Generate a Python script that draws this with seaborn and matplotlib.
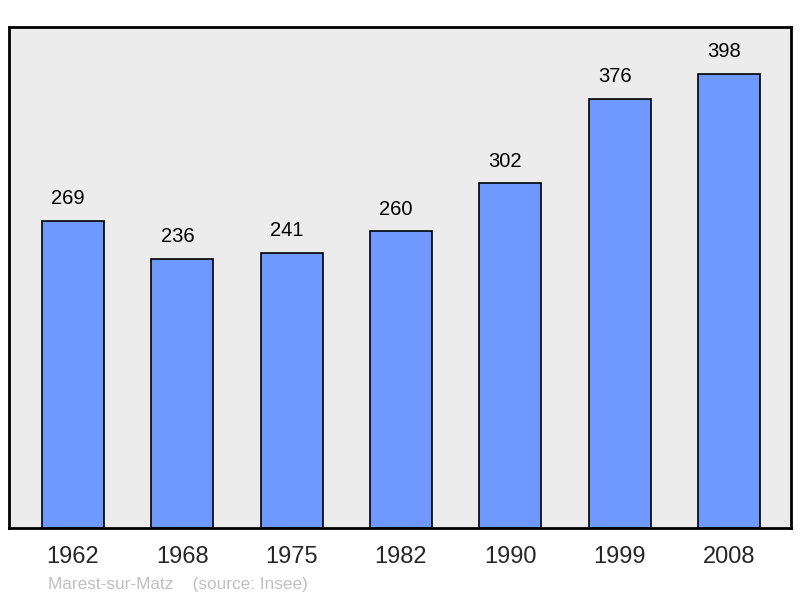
import matplotlib
matplotlib.use("Agg")
import matplotlib.pyplot as plt
import seaborn as sns
import pandas as pd

# Population data
years = ["1962", "1968", "1975", "1982", "1990", "1999", "2008"]
population = [269, 236, 241, 260, 302, 376, 398]

df = pd.DataFrame({"year": years, "population": population})

sns.set_style("white")
plt.rcParams["font.family"] = ["Liberation Sans", "DejaVu Sans"]

fig = plt.figure(figsize=(8, 5.98), dpi=100)
ax = fig.add_axes([0.01125, 0.117, 0.9775, 0.8378])
ax.set_facecolor("#ececec")

sns.barplot(data=df, x="year", y="population", color="#7099ff", saturation=1,
            width=0.567, edgecolor="black", linewidth=1.2, ax=ax)

# value labels sit slightly left of the bar centre in the original
for i, v in enumerate(population):
    ax.text(i - 0.045, v + 11, str(v), ha="center", va="bottom", fontsize=14.5, color="black")

ax.set_xlim(-0.585, 6.567)
ax.set_ylim(0, 439)
ax.set_yticks([])
ax.set_xlabel("")
ax.set_ylabel("")
ax.tick_params(axis="x", length=0, labelsize=17, pad=13)
for s in ax.spines.values():
    s.set_visible(True)
    s.set_linewidth(2)
    s.set_color("black")

fig.text(48 / 800, 1 - 584 / 598, "Marest-sur-Matz    (source: Insee)", fontsize=12.4,
         color="#c0c0c0", ha="left", va="center")

fig.savefig("out.png", dpi=100)
